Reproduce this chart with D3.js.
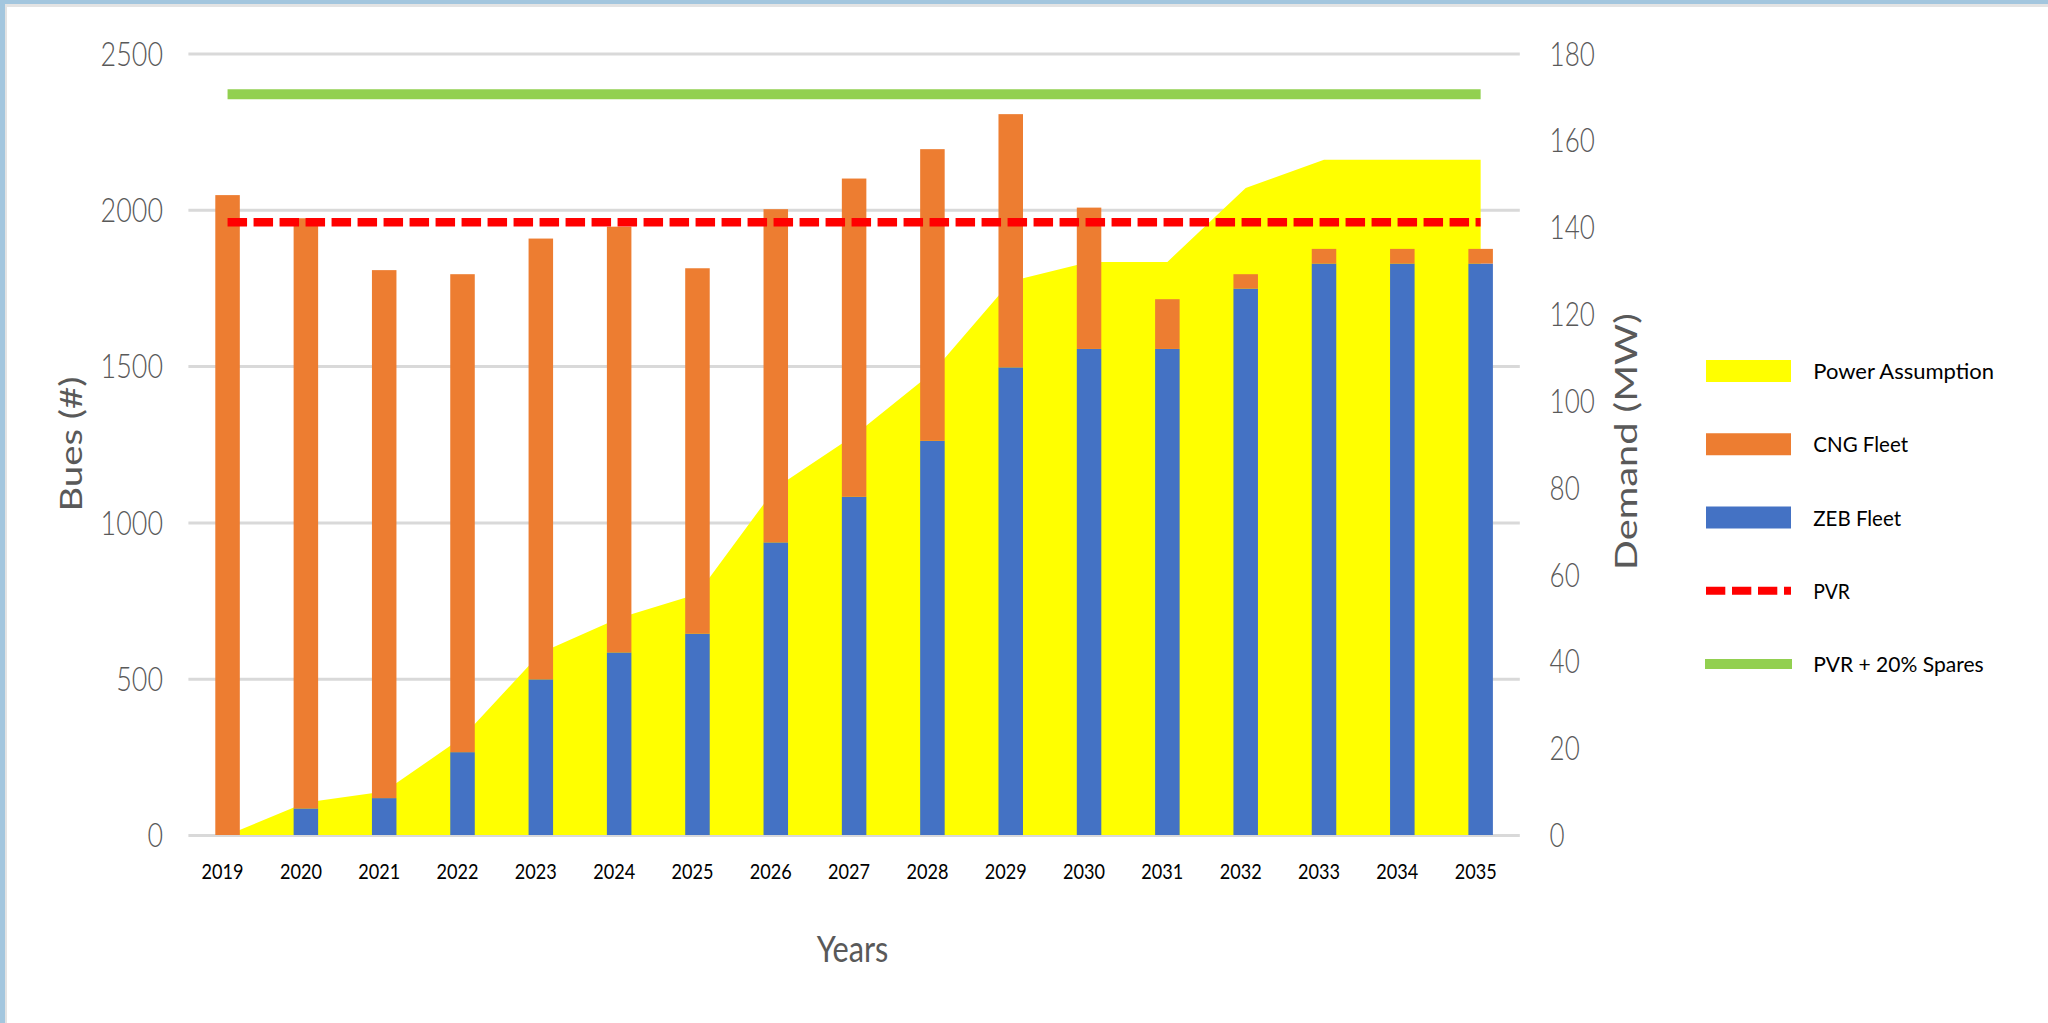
<!DOCTYPE html>
<html>
<head>
<meta charset="utf-8">
<script src="https://cdn.jsdelivr.net/npm/d3@7"></script>
<style>
  html, body { margin: 0; padding: 0; background: #ffffff; }
  svg { display: block; }
</style>
</head>
<body>
<svg id="chart" width="2048" height="1023"></svg>
<script>
// Fleet transition: buses by fuel type (left axis) and charging power demand (right axis)
const years = ["2019","2020","2021","2022","2023","2024","2025","2026","2027",
               "2028","2029","2030","2031","2032","2033","2034","2035"];
const zebFleet = [0, 85, 118, 265, 498, 584, 644, 936, 1082, 1261, 1496, 1555, 1555, 1748, 1828, 1828, 1828];
const cngFleet = [2047, 1888, 1689, 1529, 1410, 1362, 1169, 1066, 1018, 933, 810, 452, 159, 46, 47, 47, 47];
const powerMW  = [0, 7.5, 10, 22.5, 42, 50, 55.5, 80, 92, 106.5, 127.5, 132, 132, 149, 155.5, 155.5, 155.5];
const pvr      = [1960, 1960, 1960, 1960, 1960, 1960, 1960, 1960, 1960, 1960, 1960, 1960, 1960, 1960, 1960, 1960, 1960];
const pvrSpares= [2370, 2370, 2370, 2370, 2370, 2370, 2370, 2370, 2370, 2370, 2370, 2370, 2370, 2370, 2370, 2370, 2370];
const busTicks = [0, 500, 1000, 1500, 2000, 2500];
const mwTicks  = [0, 20, 40, 60, 80, 100, 120, 140, 160, 180];
const legendItems = ["Power Assumption", "CNG Fleet", "ZEB Fleet", "PVR", "PVR + 20% Spares"];

const COLORS = { power: "#FFFF00", cng: "#ED7D31", zeb: "#4472C4", pvr: "#FF0000", spares: "#92D050" };
const AXIS_GRAY = "#595959";
const FONT = "Lato, 'Open Sans', sans-serif";

const svg = d3.select("#chart");

// window frame
svg.append("rect").attr("x", 0).attr("y", 0).attr("width", 2048).attr("height", 1023).attr("fill", "#ffffff");
svg.append("rect").attr("x", 0).attr("y", 0).attr("width", 2048).attr("height", 4).attr("fill", "#a3c6de");
svg.append("rect").attr("x", 0).attr("y", 4).attr("width", 2048).attr("height", 3).attr("fill", "#e3e3e3");
svg.append("rect").attr("x", 0).attr("y", 0).attr("width", 5).attr("height", 1023).attr("fill", "#a3c6de");
svg.append("rect").attr("x", 5).attr("y", 4).attr("width", 2).attr("height", 1019).attr("fill", "#e3e3e3");

const plot = { left: 188.4, right: 1519.8, top: 53.5, bottom: 835 };

const x = d3.scaleBand().domain(years)
  .range([plot.left, plot.right])
  .paddingInner(0.687).paddingOuter(0.3435);
const cx = d => x(d) + x.bandwidth() / 2;
const yL = d3.scaleLinear().domain([0, 2500]).range([plot.bottom, plot.top]);
const yR = d3.scaleLinear().domain([0, 180]).range([plot.bottom, plot.top]);

// horizontal gridlines
const grid = svg.append("g").attr("transform", `translate(${plot.left},0)`)
  .call(d3.axisLeft(yL).tickValues(busTicks).tickSize(-(plot.right - plot.left)).tickFormat(""));
grid.select(".domain").remove();
grid.selectAll("line").attr("stroke", "#d9d9d9").attr("stroke-width", 3);

// left axis labels
const leftAxis = svg.append("g").attr("transform", "translate(163,0)")
  .call(d3.axisLeft(yL).tickValues(busTicks).tickSize(0).tickPadding(0).tickFormat(d3.format("d")));
leftAxis.select(".domain").remove();
leftAxis.selectAll("text")
  .attr("font-family", FONT).attr("font-weight", 300).attr("font-size", 32.5)
  .attr("fill", AXIS_GRAY).attr("dy", "0.358em")
  .attr("textLength", d => String(d).length * 15.6).attr("lengthAdjust", "spacingAndGlyphs");

// right axis labels
const rightAxis = svg.append("g").attr("transform", "translate(1549.6,0)")
  .call(d3.axisRight(yR).tickValues(mwTicks).tickSize(0).tickPadding(0).tickFormat(d3.format("d")));
rightAxis.select(".domain").remove();
rightAxis.selectAll("text")
  .attr("font-family", FONT).attr("font-weight", 300).attr("font-size", 32.5)
  .attr("fill", AXIS_GRAY).attr("dy", "0.358em")
  .attr("textLength", d => String(d).length * 15.1).attr("lengthAdjust", "spacingAndGlyphs");

// power demand area (right axis)
const area = d3.area()
  .x((d, i) => cx(years[i]))
  .y0(yR(0))
  .y1(d => yR(d));
svg.append("path").datum(powerMW).attr("d", area).attr("fill", COLORS.power);

// stacked fleet columns (left axis)
const rows = years.map((yr, i) => ({ year: yr, zeb: zebFleet[i], cng: cngFleet[i] }));
const stacked = d3.stack().keys(["zeb", "cng"])(rows);
const barColor = { zeb: COLORS.zeb, cng: COLORS.cng };
svg.append("g").selectAll("g").data(stacked).join("g")
  .attr("fill", s => barColor[s.key])
  .selectAll("rect").data(s => s).join("rect")
  .attr("x", d => x(d.data.year))
  .attr("width", x.bandwidth())
  .attr("y", d => yL(d[1]))
  .attr("height", d => yL(d[0]) - yL(d[1]));

// PVR and spares reference lines
const lineL = d3.line().x((d, i) => cx(years[i])).y(d => yL(d));
svg.append("path").datum(pvrSpares).attr("d", lineL)
  .attr("fill", "none").attr("stroke", COLORS.spares).attr("stroke-width", 10);
svg.append("path").datum(pvr).attr("d", lineL)
  .attr("fill", "none").attr("stroke", COLORS.pvr).attr("stroke-width", 8.5)
  .attr("stroke-dasharray", "19.5 6.5");

// category axis
const bottomAxis = svg.append("g").attr("transform", `translate(0,${plot.bottom})`)
  .call(d3.axisBottom(x).tickSize(0).tickPadding(0));
bottomAxis.select(".domain").remove();
bottomAxis.selectAll("text")
  .attr("font-family", FONT).attr("font-size", 20.5).attr("fill", "#000000")
  .attr("y", 43.7).attr("dy", 0).attr("dx", -5)
  .attr("textLength", 42).attr("lengthAdjust", "spacingAndGlyphs");

// axis titles
svg.append("text").text("Years")
  .attr("x", 852.5).attr("y", 961.7).attr("text-anchor", "middle")
  .attr("font-family", FONT).attr("font-size", 37).attr("fill", AXIS_GRAY)
  .attr("textLength", 71.7).attr("lengthAdjust", "spacingAndGlyphs");
svg.append("text").text("Bues (#)")
  .attr("transform", "translate(81.7,444) rotate(-90)").attr("text-anchor", "middle")
  .attr("font-family", FONT).attr("font-size", 30.5).attr("fill", AXIS_GRAY)
  .attr("textLength", 135).attr("lengthAdjust", "spacingAndGlyphs");
svg.append("text").text("Demand (MW)")
  .attr("transform", "translate(1637.3,441.7) rotate(-90)").attr("text-anchor", "middle")
  .attr("font-family", FONT).attr("font-size", 30.5).attr("fill", AXIS_GRAY)
  .attr("textLength", 257).attr("lengthAdjust", "spacingAndGlyphs");

// legend
const legendRow = d3.scalePoint().domain(legendItems).range([371, 664]);
const legendWidths = { "Power Assumption": 180.7, "CNG Fleet": 94.7, "ZEB Fleet": 87.7, "PVR": 36.7, "PVR + 20% Spares": 170.3 };
const legend = svg.append("g");
const sw = { x0: 1706, x1: 1791 };
legendItems.forEach(name => {
  const cy = legendRow(name);
  if (name === "Power Assumption" || name === "CNG Fleet" || name === "ZEB Fleet") {
    const fill = name === "Power Assumption" ? COLORS.power : name === "CNG Fleet" ? COLORS.cng : COLORS.zeb;
    legend.append("rect").attr("x", sw.x0).attr("y", cy - 11).attr("width", sw.x1 - sw.x0).attr("height", 22).attr("fill", fill);
  } else if (name === "PVR") {
    legend.append("line").attr("x1", sw.x0).attr("x2", sw.x1).attr("y1", cy).attr("y2", cy)
      .attr("stroke", COLORS.pvr).attr("stroke-width", 8).attr("stroke-dasharray", "19.3 6.7");
  } else {
    legend.append("line").attr("x1", sw.x0 - 1).attr("x2", sw.x1 + 1).attr("y1", cy).attr("y2", cy)
      .attr("stroke", COLORS.spares).attr("stroke-width", 10);
  }
  legend.append("text").text(name)
    .attr("x", 1813.3).attr("y", cy + 8)
    .attr("font-family", FONT).attr("font-size", 22).attr("fill", "#000000")
    .attr("textLength", legendWidths[name]).attr("lengthAdjust", "spacingAndGlyphs");
});
</script>
</body>
</html>
